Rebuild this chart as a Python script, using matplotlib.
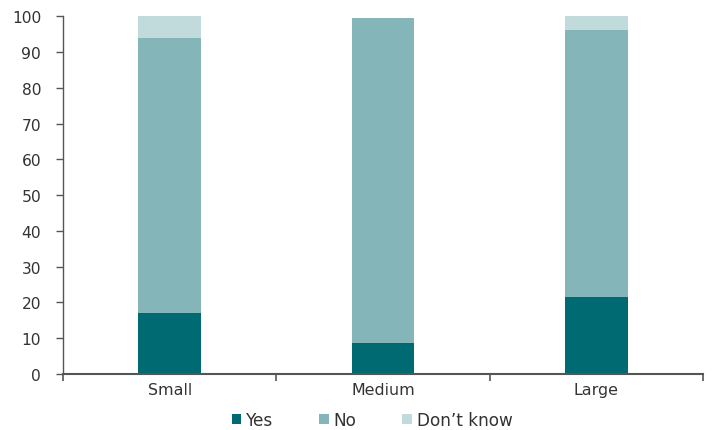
import matplotlib
matplotlib.use("Agg")
import matplotlib.pyplot as plt
import numpy as np

categories = ["Small", "Medium", "Large"]
yes = [17.0, 8.6, 21.5]
no = [77.0, 90.9, 74.7]
dont_know = [6.0, 0.0, 3.8]
series_names = ["Yes", "No", "Don\u2019t know"]
colors = ["#006a73", "#84b5b9", "#c1dbdd"]
y_ticks = [0, 10, 20, 30, 40, 50, 60, 70, 80, 90, 100]

plt.rcParams["font.family"] = ["DejaVu Sans"]
text_color = "#333333"
axis_color = "#555555"

fig = plt.figure(figsize=(7.13, 4.31), dpi=100)
ax = fig.add_axes([0.0888, 0.130, 0.8967, 0.830])

x = np.arange(len(categories))
width = 0.295
bottom = np.zeros(len(categories))
handles = []
for vals, name, col in zip([yes, no, dont_know], series_names, colors):
    b = ax.bar(x, vals, width, bottom=bottom, color=col, label=name, linewidth=0)
    handles.append(b)
    bottom += np.array(vals)

ax.set_xlim(-0.5, len(categories) - 0.5)
ax.set_ylim(0, 100)
ax.set_yticks(y_ticks)
ax.set_yticklabels([str(t) for t in y_ticks])

ax.set_xticks(np.arange(-0.5, len(categories), 1.0))
ax.set_xticklabels([])
ax.set_xticks(x, minor=True)
ax.set_xticklabels(categories, minor=True)
ax.tick_params(axis="x", which="minor", length=0, pad=6, labelsize=11.4)
ax.tick_params(axis="x", which="major", length=5, width=1.2, color=axis_color)
ax.tick_params(axis="y", length=5, width=1.0, color=axis_color, pad=11,
               labelsize=11.2)
ax.tick_params(axis="both", which="both", labelcolor=text_color)

for s in ["top", "right"]:
    ax.spines[s].set_visible(False)
ax.spines["left"].set_color(axis_color)
ax.spines["bottom"].set_color(axis_color)
ax.spines["left"].set_linewidth(1.0)
ax.spines["bottom"].set_linewidth(1.5)

leg = fig.legend(handles=handles, labels=series_names, loc="center",
                 bbox_to_anchor=(0.522, 0.024), ncol=3, frameon=False,
                 fontsize=12.2, handlelength=0.55, handleheight=0.55,
                 handletextpad=0.3, columnspacing=2.7)
for t in leg.get_texts():
    t.set_color(text_color)

fig.savefig("out.png", dpi=100)
